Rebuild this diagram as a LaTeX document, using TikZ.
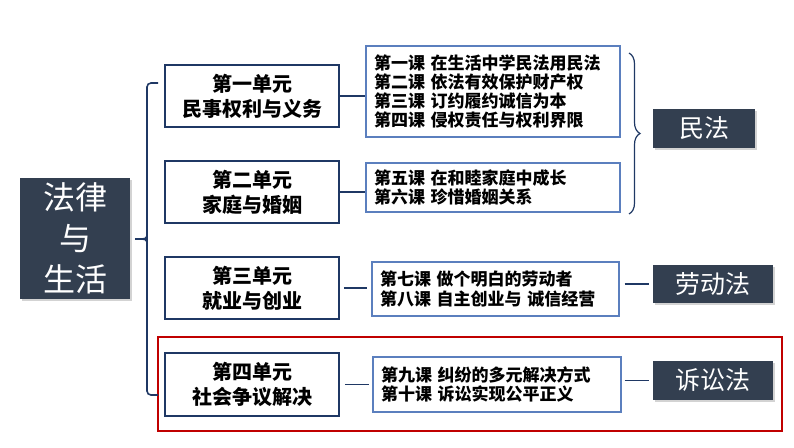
\documentclass[tikz,border=0pt]{standalone}
\usepackage{fontspec}
\setmainfont{Noto Sans CJK SC}
\usetikzlibrary{decorations.pathreplacing,shadows}
\definecolor{darkbox}{HTML}{333F50}
\definecolor{navy}{HTML}{1F3864}
\definecolor{lessonblue}{HTML}{5B7FBE}
\definecolor{redframe}{HTML}{C00000}
\tikzset{
  mainbox/.style={fill=darkbox, text=white, inner sep=0pt, align=center,
    drop shadow={shadow xshift=2pt, shadow yshift=-2pt, opacity=0.35}},
  unitbox/.style={draw=navy, line width=1.6pt, fill=white, minimum width=174pt,
    inner sep=0pt, align=center, font=\bfseries\fontsize{20}{25}\selectfont},
  lessonbox/.style={draw=lessonblue, line width=1.3pt, fill=white, inner xsep=8pt,
    inner ysep=0pt, align=left, font=\bfseries\fontsize{17}{19.3}\selectfont},
  link/.style={draw=navy, line width=1.8pt},
  bracebar/.style={draw=navy, line width=1.6pt},
}
\begin{document}
\begin{tikzpicture}[x=1pt,y=-1pt]
\useasboundingbox (0,0) rectangle (794,447);
% main node
\node[mainbox, minimum width=110pt, minimum height=121pt,
  font=\fontsize{32}{41}\selectfont] (main) at (75,238.5) {法律\\与\\生活};
% units
\node[unitbox, minimum height=62pt] (u1) at (252,96) {第一单元\\民事权利与义务};
\node[unitbox, minimum height=62pt] (u2) at (252,192) {第二单元\\家庭与婚姻};
\node[unitbox, minimum height=62pt] (u3) at (252,288) {第三单元\\就业与创业};
\node[unitbox, minimum height=63pt] (u4) at (252,384.5) {第四单元\\社会争议解决};
% lessons
\node[lessonbox, text width=238pt, minimum height=91pt] (l1) at (493,91.5)
  {第一课 在生活中学民法用民法\\第二课 依法有效保护财产权\\第三课 订约履约诚信为本\\第四课 侵权责任与权利界限};
\node[lessonbox, text width=238pt, minimum height=49pt] (l2) at (493,187.5)
  {第五课 在和睦家庭中成长\\第六课 珍惜婚姻关系};
\node[lessonbox, text width=231pt, minimum height=54pt] (l3) at (495.5,289)
  {第七课 做个明白的劳动者\\第八课 自主创业与 诚信经营};
\node[lessonbox, text width=232pt, minimum height=55pt] (l4) at (497,384.5)
  {第九课 纠纷的多元解决方式\\第十课 诉讼实现公平正义};
% law nodes
\node[mainbox, minimum width=102pt, minimum height=39pt,
  font=\fontsize{25}{30}\selectfont] (m1) at (704,128.5) {民法};
\node[mainbox, minimum width=120pt, minimum height=38pt,
  font=\fontsize{25}{30}\selectfont] (m2) at (713,284) {劳动法};
\node[mainbox, minimum width=120pt, minimum height=39pt,
  font=\fontsize{25}{30}\selectfont] (m3) at (713,380.5) {诉讼法};
% red frame
\node[draw=redframe, line width=1.8pt, minimum width=624pt, minimum height=94pt,
  inner sep=0pt] (frame) at (470,384) {};
% left brace
\coordinate (lbtop) at (158,83);
\coordinate (lbbot) at (158,395);
\coordinate (lbtip) at (135,239);
\draw[bracebar, rounded corners=4pt] (lbtop) -- (147,83) -- (147,395) -- (lbbot);
\draw[bracebar] (147,233) .. controls (147,239) .. (lbtip);
\draw[bracebar] (147,245) .. controls (147,239) .. (lbtip);
% right brace
\coordinate (rbtop) at (629,53);
\coordinate (rbbot) at (629,214);
\draw[bracebar, line width=1.2pt, decorate, decoration={brace, amplitude=11pt, aspect=0.5}] (rbtop) -- (rbbot);
% connectors
\draw[link] (u1.east) -- (u1.east -| l1.west);
\draw[link] (u2.east) -- (u2.east -| l2.west);
\draw[link, shorten <=4pt, shorten >=4pt] (u3.east) -- (u3.east -| l3.west);
\draw[link, shorten <=5pt, shorten >=3pt] (u4.east) -- (u4.east -| l4.west);
\draw[link, shorten <=5pt, shorten >=4pt] (l3.east |- m2.west) -- (m2.west);
\draw[link, shorten <=3pt, shorten >=4pt] (l4.east |- m3.west) -- (m3.west);
\end{tikzpicture}
\end{document}
